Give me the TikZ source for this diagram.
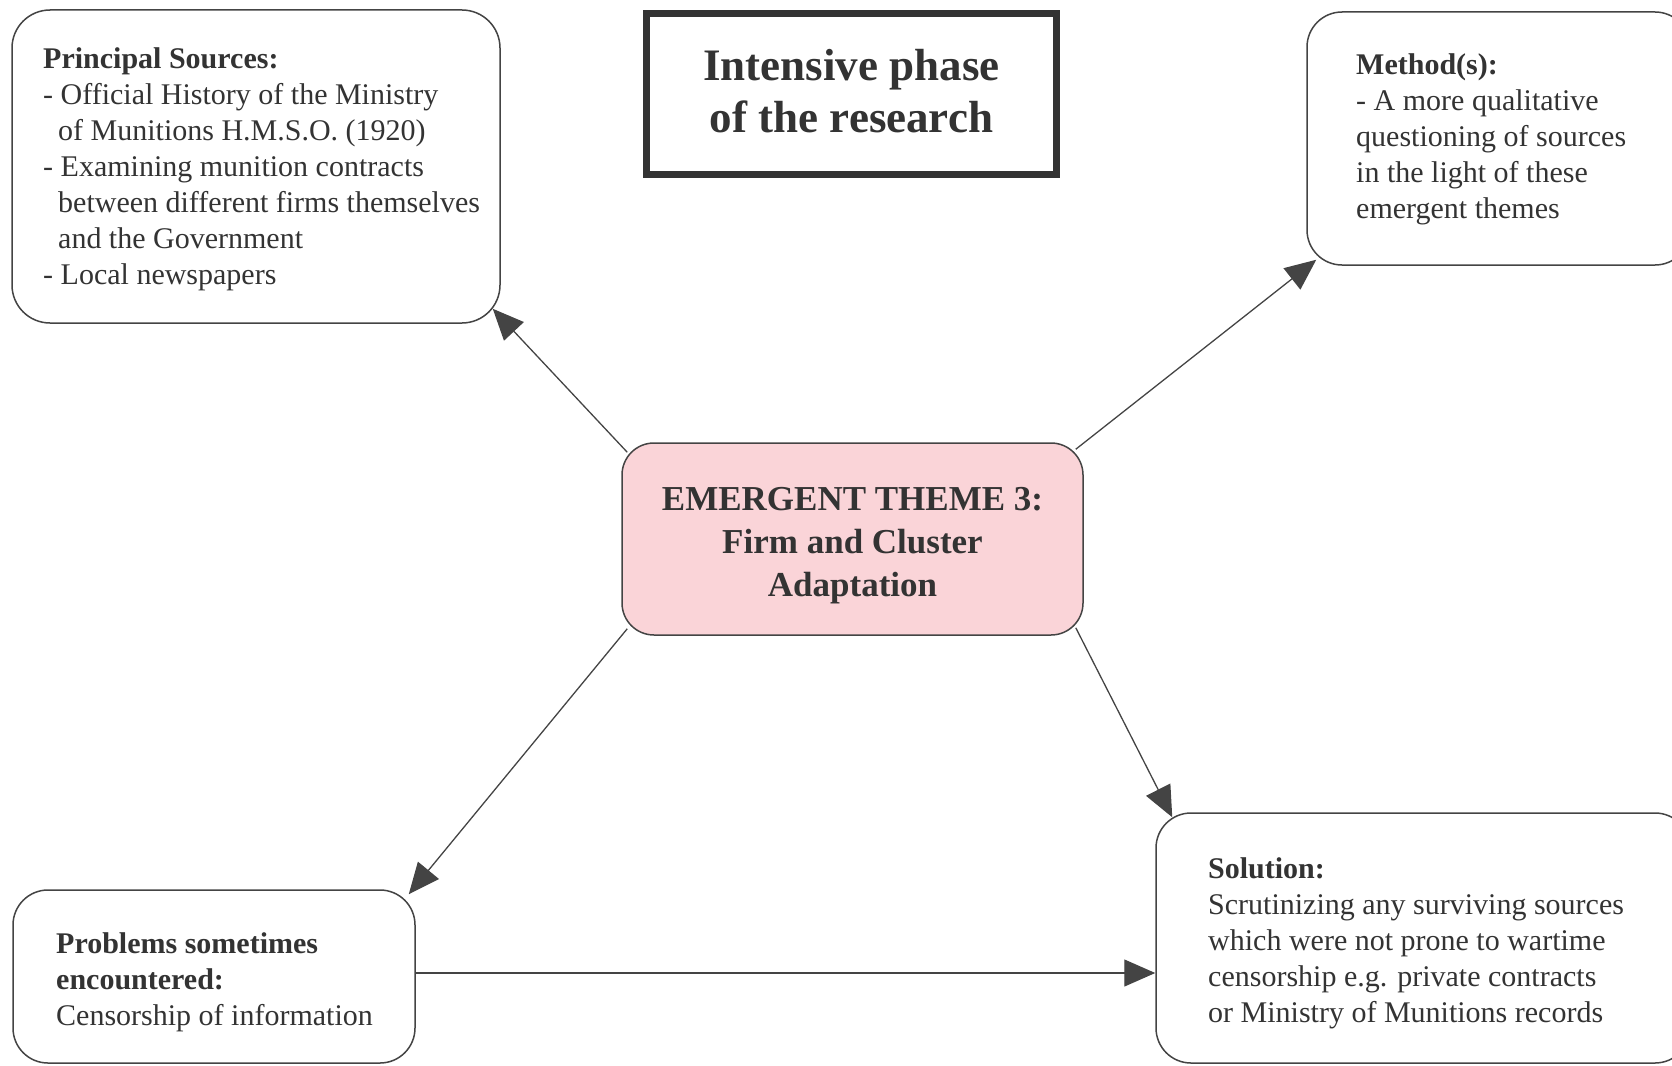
\documentclass[tikz,border=0pt]{standalone}
\usepackage{fontspec}
\setmainfont{Liberation Serif}
\usetikzlibrary{arrows.meta,calc}
\definecolor{ink}{HTML}{333333}
\definecolor{edge}{HTML}{444444}
\definecolor{themefill}{HTML}{FAD4D8}

\begin{document}
\begin{tikzpicture}[x=1pt,y=-1pt,
  box/.style={draw=edge, line width=1.5pt, rounded corners=35pt, inner sep=0pt, fill=white},
  txt/.style={anchor=north west, align=left, inner sep=0pt, text=ink,
              font=\fontsize{30}{36}\selectfont},
  arr/.style={draw=edge, line width=1.3pt, -{Triangle[length=31pt,width=27pt]}}
]
\useasboundingbox (0,0) rectangle (1672,1065);

% boxes
\node[box, rounded corners=38pt, minimum width=488pt, minimum height=313pt] (ps) at (256,166.5) {};
\node[draw=ink, line width=7pt, inner sep=0pt, minimum width=410pt, minimum height=161pt] (title) at (851.5,94) {};
\node[box, minimum width=383pt, minimum height=253pt] (meth) at (1498.5,138.5) {};
\node[box, fill=themefill, rounded corners=32pt, minimum width=461pt, minimum height=192pt] (theme) at (852.5,539) {};
\node[box, minimum width=402pt, minimum height=173pt] (prob) at (214,976.5) {};
\node[box, minimum width=534pt, minimum height=250pt] (sol) at (1423,938) {};

% texts
\node[txt] (pstext) at (43,47) {\textbf{Principal Sources:}\\
- Official History of the Ministry\\
\hspace*{15pt}of Munitions H.M.S.O. (1920)\\
- Examining munition contracts\\
\hspace*{15pt}between different firms themselves\\
\hspace*{15pt}and the Government\\
- Local newspapers};

\node[anchor=north, align=center, inner sep=0pt, text=ink,
      font=\fontsize{45}{52}\selectfont\bfseries] (titletext) at (851.5,49)
  {Intensive phase\\of the research};

\node[txt] (methtext) at (1356,53.5) {\textbf{Method(s):}\\
- A more qualitative\\
questioning of sources\\
in the light of these\\
emergent themes};

\node[anchor=north, align=center, inner sep=0pt, text=ink,
      font=\fontsize{35}{43}\selectfont\bfseries] (themetext) at (852.5,487)
  {EMERGENT THEME 3:\\Firm and Cluster\\Adaptation};

\node[txt] (probtext) at (56,932) {\textbf{Problems sometimes}\\
\textbf{encountered:}\\
Censorship of information};

\node[txt] (soltext) at (1208,857) {\textbf{Solution:}\\
Scrutinizing any surviving sources\\
which were not prone to wartime\\
censorship e.g. private contracts\\
or Ministry of Munitions records};

% connectors
\coordinate (level) at (0,973);
\draw[arr] ($(theme.north west)+(6,10)$) -- ($(ps.south east)+(-8,-15)$);
\draw[arr] ($(theme.north east)+(-8,7)$) -- ($(meth.south west)+(10,-6)$);
\draw[arr] ($(theme.south east)+(-8,-8)$) -- ($(sol.north west)+(17,5)$);
\draw[arr] ($(theme.south west)+(6,-7)$) -- ($(prob.north east)+(-7,5)$);
\draw[arr] (prob.east |- level) -- (sol.west |- level);
\end{tikzpicture}
\end{document}
